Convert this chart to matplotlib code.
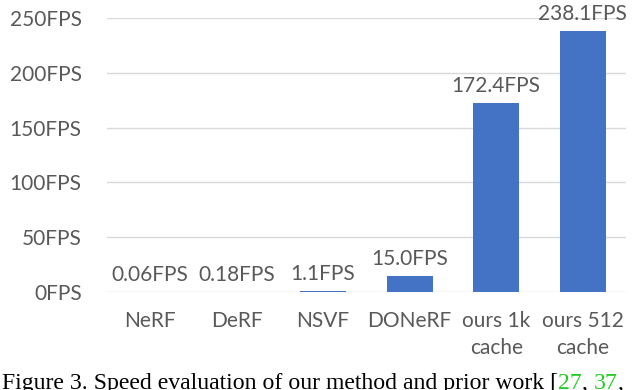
import matplotlib.pyplot as plt
import numpy as np

# chart data
methods = ['NeRF', 'DeRF', 'NSVF', 'DONeRF', 'ours 1k\ncache', 'ours 512\ncache']
fps = [0.06, 0.18, 1.1, 15.0, 172.4, 238.1]
fps_labels = ['0.06FPS', '0.18FPS', '1.1FPS', '15.0FPS', '172.4FPS', '238.1FPS']
y_ticks = [0, 50, 100, 150, 200, 250]

text_color = '#595959'
bar_color = '#4472C4'
font = 'Lato'
fs = 15

fig = plt.figure(figsize=(6.4, 3.9), dpi=100)
ax = fig.add_axes([106.7 / 640, 1 - 292 / 390, (626 - 106.7) / 640, (292 - 18) / 390])

x = np.arange(len(methods))
ax.bar(x, fps, width=0.53, color=bar_color, zorder=3)

for xi, v, lab in zip(x, fps, fps_labels):
    ax.annotate(lab, (xi, v), xytext=(0, 5), textcoords='offset points',
                ha='center', va='bottom', fontsize=fs, color=text_color,
                family=font, annotation_clip=False)

ax.set_xlim(-0.5, len(methods) - 0.5)
ax.set_ylim(0, 250)
ax.set_yticks(y_ticks)
ax.set_yticklabels([f'{t}FPS' for t in y_ticks], fontsize=fs, color=text_color, family=font)
ax.set_xticks(x)
ax.set_xticklabels(methods, fontsize=fs, color=text_color, family=font, linespacing=1.4)
ax.tick_params(length=0)
ax.tick_params(axis='y', pad=18)
ax.tick_params(axis='x', pad=14)
ax.yaxis.grid(True, color='#d9d9d9', linewidth=1, zorder=0)
for s in ax.spines.values():
    s.set_visible(False)

# figure caption, cut off at the bottom edge in the reference
cap_y = 1 - 389 / 390
parts = [('Figure 3. Speed evaluation of our method and prior work [', 'black'),
         ('27', '#22cc22'), (', ', 'black'), ('37', '#22cc22'), (',', 'black')]
renderer = fig.canvas.get_renderer()
xpos = 2 / 640
for txt, col in parts:
    t = fig.text(xpos, cap_y, txt, fontsize=17.1, family='Liberation Serif',
                 color=col, ha='left', va='baseline')
    bb = t.get_window_extent(renderer=renderer)
    xpos += bb.width / 640

fig.savefig('out.png', dpi=100)
